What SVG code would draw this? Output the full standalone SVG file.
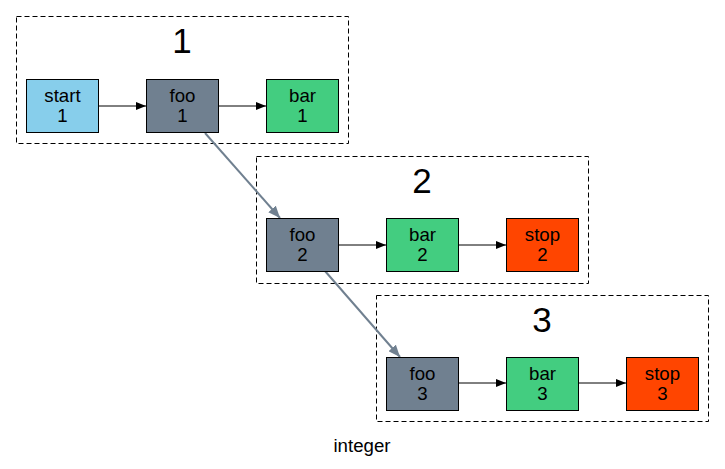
<svg xmlns="http://www.w3.org/2000/svg" width="725" height="469" viewBox="0 0 725 469">
<style>
.cl{fill:none;stroke:#000;stroke-dasharray:5,3;stroke-width:1}
.ct{font-family:"Liberation Sans",Arial,sans-serif;font-size:35px;text-anchor:middle;fill:#000}
.n rect{stroke:#000;stroke-width:1}
.n text{font-family:"Liberation Sans",Arial,sans-serif;font-size:18.67px;text-anchor:middle;fill:#000}
.e{stroke:#000;stroke-width:1;fill:none}
.x{stroke:#708090;stroke-width:2;fill:none}
.foo{fill:#708090}.bar{fill:#43cd80}.stop{fill:#ff4500}.start{fill:#87ceeb}
</style>
<defs>
<marker id="a" markerWidth="10" markerHeight="8" refX="10" refY="4" orient="auto" markerUnits="userSpaceOnUse"><path d="M0,0L10,4L0,8z" fill="#000"/></marker>
<marker id="g" markerWidth="12" markerHeight="10" refX="12" refY="5" orient="auto" markerUnits="userSpaceOnUse"><path d="M0,0L12,5L0,10z" fill="#708090"/></marker>
</defs>
<rect width="725" height="469" fill="#fff"/>
<g id="cluster1"><rect class="cl" x="16.5" y="16.5" width="332" height="127"/><text class="ct" x="182" y="53">1</text></g>
<g id="cluster2"><rect class="cl" x="256.5" y="156.5" width="332" height="127"/><text class="ct" x="422" y="193">2</text></g>
<g id="cluster3"><rect class="cl" x="376.5" y="295.5" width="332" height="126"/><text class="ct" x="542" y="332">3</text></g>
<g id="edges">
<line class="e" x1="98" y1="106" x2="146" y2="106" marker-end="url(#a)"/>
<line class="e" x1="218" y1="106" x2="266" y2="106" marker-end="url(#a)"/>
<line class="e" x1="338" y1="245" x2="386" y2="245" marker-end="url(#a)"/>
<line class="e" x1="458" y1="245" x2="506" y2="245" marker-end="url(#a)"/>
<line class="e" x1="458" y1="383" x2="506" y2="383" marker-end="url(#a)"/>
<line class="e" x1="578" y1="383" x2="626" y2="383" marker-end="url(#a)"/>
<line class="x" x1="205" y1="133" x2="280" y2="218" marker-end="url(#g)"/>
<line class="x" x1="325" y1="271" x2="400" y2="357" marker-end="url(#g)"/>
</g>
<g id="start1" class="n"><rect class="start" x="26.5" y="79.5" width="72" height="53"/><text x="62.5" y="101.5">start</text><text x="62.5" y="122">1</text></g>
<g id="foo1" class="n"><rect class="foo" x="146.5" y="79.5" width="72" height="53"/><text x="182.5" y="101.5">foo</text><text x="182.5" y="122">1</text></g>
<g id="bar1" class="n"><rect class="bar" x="266.5" y="79.5" width="72" height="53"/><text x="302.5" y="101.5">bar</text><text x="302.5" y="122">1</text></g>
<g id="foo2" class="n"><rect class="foo" x="266.5" y="218.5" width="72" height="53"/><text x="302.5" y="240.5">foo</text><text x="302.5" y="261">2</text></g>
<g id="bar2" class="n"><rect class="bar" x="386.5" y="218.5" width="72" height="53"/><text x="422.5" y="240.5">bar</text><text x="422.5" y="261">2</text></g>
<g id="stop2" class="n"><rect class="stop" x="506.5" y="218.5" width="72" height="53"/><text x="542.5" y="240.5">stop</text><text x="542.5" y="261">2</text></g>
<g id="foo3" class="n"><rect class="foo" x="386.5" y="357.5" width="72" height="53"/><text x="422.5" y="379.5">foo</text><text x="422.5" y="400">3</text></g>
<g id="bar3" class="n"><rect class="bar" x="506.5" y="357.5" width="72" height="53"/><text x="542.5" y="379.5">bar</text><text x="542.5" y="400">3</text></g>
<g id="stop3" class="n"><rect class="stop" x="626.5" y="357.5" width="72" height="53"/><text x="662.5" y="379.5">stop</text><text x="662.5" y="400">3</text></g>
<text x="362" y="452" font-family="Liberation Sans, Arial, sans-serif" font-size="18.67" text-anchor="middle">integer</text>
</svg>
